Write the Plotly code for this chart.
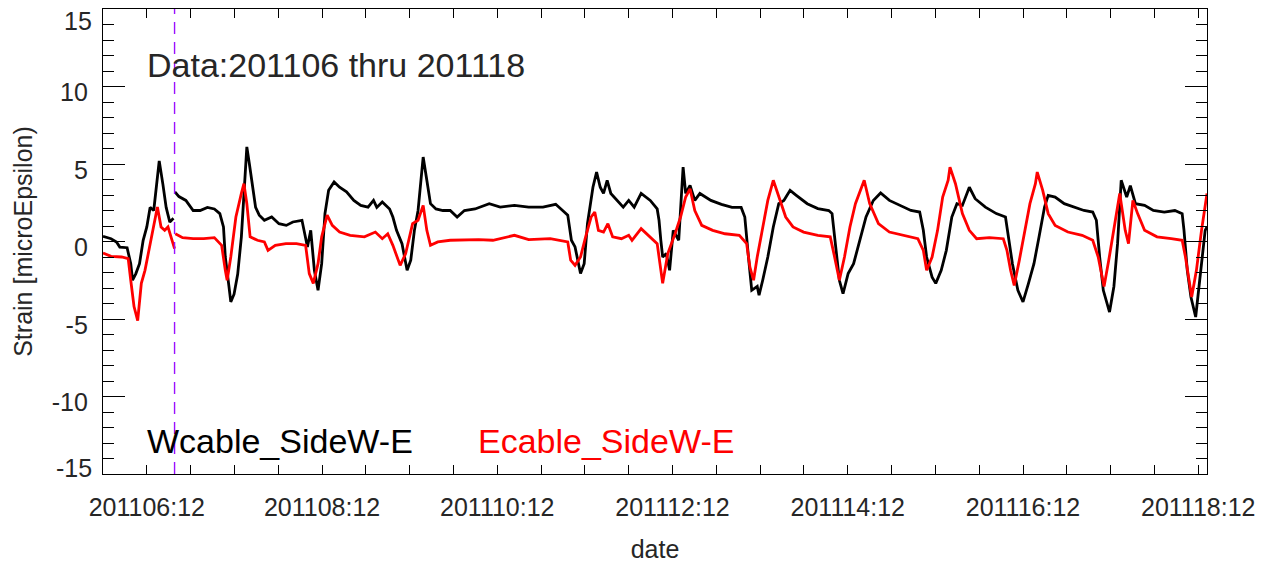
import pandas as pd
import plotly.graph_objects as go

# ---- data (hours since 2020-11-06 00:00) ----
start = pd.Timestamp("2020-11-06 00:00")

w_hours = [0, 2.2, 3.7, 4.6, 6.6, 7.6, 8.1, 9.0, 10.0, 11.0, 12.0, 12.9, 13.9, 14.9, 15.4, 16.4, 17.3, 18.3, 19.3,
           19.6,
           19.7, 20.8, 22.7, 24.7, 26.6, 28.6, 30.5, 32.0, 33.0, 33.5, 34.5, 35.0, 35.9, 36.9, 37.9, 38.9, 39.4, 40.1,
           40.8, 41.8, 42.8, 44.2, 46.2, 48.2, 50.2, 52.0, 54.5, 55.5, 56.0, 56.9, 57.9, 58.9, 59.9, 60.8, 61.8, 63.3,
           64.8, 66.7, 68.7, 70.6, 72.6, 74.1, 75.0, 76.5, 78.5, 79.4, 80.4, 81.9, 83.3, 84.3, 85.3, 86.3, 87.2, 87.7,
           88.7, 89.7, 91.2, 93.1, 95.1, 97.0, 99.0, 101.9, 105.8, 108.8, 112.7, 116.6, 120.5, 124.0, 125.9, 127.3,
           128.3, 129.3, 130.8, 131.8, 132.7, 134.2, 135.2, 136.2, 137.1, 138.1, 139.1, 140.5, 142.5, 144.0, 145.5,
           147.4, 149.9, 151.8, 152.3, 152.8, 153.3, 154.3, 155.2, 156.2, 157.7, 158.9, 159.6, 160.8, 162.1, 163.5,
           166.5, 169.4, 172.3, 174.8, 175.8, 176.8, 177.7, 179.2, 179.7, 180.7, 182.1, 183.6, 185.1, 186.5, 188.2,
           189.9, 192.9, 195.8, 198.8, 199.7, 200.7, 201.7, 202.7, 204.1, 205.6, 207.5, 209.0, 211.0, 213.0, 215.4,
           218.3, 221.3, 223.7, 224.7, 225.6, 227.1, 228.1, 229.6, 231.0, 232.5, 233.9, 235.4, 237.3, 238.9, 241.7,
           244.7, 247.2, 248.1, 249.1, 250.6, 252.0, 253.5, 255.0, 256.4, 257.9, 258.9, 260.8, 263.3, 266.2, 268.7,
           271.1, 272.1, 273.0, 274.0, 275.7, 276.9, 277.9, 278.9, 280.4, 281.4, 282.8, 285.3, 287.7, 290.7, 293.6,
           295.6, 296.1, 297.0, 298.0, 299.3, 300.4, 301.9, 302.4]
w_strain = [0.33, 0.18, -0.03, -0.36, -0.4, -1.43, -2.5, -2.07, -1.43, 0.08, 0.94, 2.2, 2.0, 3.95, 5.2, 3.7, 2.2, 1.25, 1.5,
            None,
            3.2, 2.9, 2.65, 2.0, 2.0, 2.2, 2.1, 1.8, 0.94, -1.0, -2.9, -3.9, -3.4, -2.1, 0.3, 3.95, 6.1, 5.0,
            3.95, 2.2, 1.7, 1.37, 1.58, 1.15, 1.04, 1.26, 1.37, 0.3, -0.35, 0.72, -1.86, -3.15, -1.43, 1.8, 3.3, 3.84,
            3.5, 3.2, 2.65, 2.33, 2.22, 2.65, 2.2, 2.55, 2.1, 1.58, 0.72, -0.14, -1.86, -1.2, 0.72, 2.0, 4.16, 5.45,
            3.95, 2.44, 2.1, 2.0, 2.0, 1.58, 2.0, 2.1, 2.44, 2.22, 2.33, 2.22, 2.22, 2.4, 2.0, 1.7,
            0.08, -0.35, -2.07, -1.43, 1.15, 3.5, 4.48, 3.5, 3.1, 3.95, 3.1, 2.76, 2.22, 2.65, 2.22,
            3.1, 2.65, 2.1, 1.37, 0.08, -1.0, -0.78, -1.86, 0.72, 0.08, 4.8, 3.1, 3.62, 2.65, 3.1,
            2.65, 2.4, 2.2, 2.2, 1.58, -1.0, -3.15, -2.9, -3.47, -2.5, -1.0, 0.94, 2.44, 2.65, 3.3,
            2.98, 2.44, 2.12, 2.0, 1.8, -0.35, -2.5, -3.37, -2.07, -1.43, 0.3, 1.58, 2.65, 3.13, 2.65,
            2.33, 2.0, 1.9, 0.72, -1.0, -2.3, -2.7, -1.86, -0.57, 1.58, 2.44, 2.33, 3.5, 2.76, 2.22,
            1.8, 1.58, 0.08, -1.43, -3.15, -3.9, -2.7, -1.43, 0.3, 2.22, 2.98, 2.87, 2.44, 2.22, 2.0,
            1.9, 1.37, -1.0, -3.15, -4.55, -2.9, -0.14, 3.95, 2.87, 3.6, 2.44, 2.33, 2.0, 1.9, 2.0,
            1.8, 0.72, -1.86, -3.58, -4.87, -2.5, 0.72, 0.94]

e_hours = [0, 2.2, 5.1, 6.9, 7.6, 8.5, 9.5, 10.5, 11.5, 12.9, 13.9, 14.9, 15.9, 16.9, 17.8, 18.8, 19.6,
           19.65,
           19.8, 21.8, 24.7, 27.6, 30.5, 32.5, 33.5, 34.0, 35.0, 36.4, 37.9, 38.6, 39.4, 40.3, 42.3, 44.2, 45.2,
           47.2, 50.1, 53.0, 55.5, 56.5, 57.6, 58.9, 59.9, 61.4, 62.8, 64.8, 67.7, 71.6, 74.6, 76.5, 78.0, 79.4, 81.4,
           82.9, 84.8, 86.3, 87.7, 88.7, 89.7, 91.7, 95.1, 99.0, 102.9, 106.8, 112.7, 116.6, 122.5, 127.3, 128.1,
           129.3, 130.8, 132.2, 133.7, 134.7, 135.7, 137.1, 138.3, 139.6, 142.0, 144.0, 144.9, 147.4, 149.8, 151.8,
           153.3, 154.7, 156.7, 158.2, 159.6, 160.8, 162.1, 164.0, 167.0, 170.4, 174.3, 176.3, 177.2, 178.2, 179.2,
           180.6, 182.1, 183.6, 185.1, 187.0, 189.0, 191.9, 195.8, 199.2, 200.2, 201.7, 203.1, 204.6, 206.1, 207.5,
           208.5, 210.0, 212.4, 215.4, 219.3, 223.2, 224.7, 225.6, 227.1, 228.6, 230.0, 231.5, 232.0, 233.5, 235.4,
           237.3, 239.3, 242.8, 246.6, 247.6, 248.6, 249.6, 251.0, 252.5, 253.9, 255.4, 255.9, 257.4, 258.9, 260.8,
           264.3, 268.2, 271.1, 272.6, 273.6, 274.2, 275.5, 277.0, 278.5, 280.0, 280.9, 282.1, 283.4, 285.3, 288.7,
           292.6, 295.6, 296.5, 297.5, 298.2, 299.5, 300.9, 302.4]
e_strain = [-0.74, -0.96, -1.0, -1.1, -2.5, -4.2, -5.1, -2.7, -1.86, -0.14, 1.15, 2.22, 0.94, 0.72, 0.94, 0.08, -0.46,
            None,
            0.5, 0.25, 0.18, 0.18, 0.25, -0.25, -1.86, -2.5, -1.0, 1.58, 3.1, 3.73, 2.44, 0.3, 0.08, -0.03, -0.57,
            -0.25, -0.14, -0.14, -0.25, -2.07, -2.7, -1.43, 0.3, 1.7, 1.04, 0.61, 0.4, 0.3, 0.61, 0.18, 0.5, -0.25,
            -1.54, -0.78, 1.15, 1.37, 2.33, 0.72, -0.25, -0.03, 0.08, 0.12, 0.12, 0.08, 0.4, 0.12, 0.18, -0.03, -1.2,
            -1.54, -1.0, 0.3, 1.58, 1.9, 0.72, 0.61, 1.15, 0.3, 0.18, 0.4, 0.08, 0.83, 0.3, -0.14,
            -2.7, -0.78, 0.5, 1.58, 2.87, 3.4, 2.0, 1.04, 0.72, 0.5, 0.4, -0.14, -1.65, -2.5, -1.0,
            0.72, 2.65, 3.95, 2.87, 1.58, 0.94, 0.61, 0.4, 0.3, -0.78, -2.5, -1.0, 0.94, 2.44, 3.3,
            3.95, 2.44, 1.15, 0.61, 0.4, 0.18, -0.57, -1.86, -1.0, 0.72, 2.87, 3.95, 4.8, 3.73, 1.8,
            0.72, 0.18, 0.25, 0.18, -0.57, -1.86, -2.83, -1.2, 0.72, 2.44, 3.73, 4.48, 3.3, 1.8, 1.04,
            0.61, 0.4, 0.08, -1.0, -2.07, -2.9, -1.2, 0.94, 3.1, 0.72, -0.14, 2.65, 1.8, 0.72, 0.3,
            0.18, 0.08, -1.0, -2.5, -3.58, -1.86, 0.72, 3.1]

assert len(w_hours) == len(w_strain), (len(w_hours), len(w_strain))
assert len(e_hours) == len(e_strain), (len(e_hours), len(e_strain))

marker_hour = 19.6
x_start_hour = 0
x_end_hour = 302.4
y_tick_vals = [-10, -5, 0, 5, 10]
y_tick_text = ["-10", "-5", "0", "5", "10"]
y_end_labels = [15, -15]
y_end_text = ["15", "-15"]
title_text = "Data:201106 thru 201118"
w_name = "Wcable_SideW-E"
e_name = "Ecable_SideW-E"


def to_time(hours):
    return [start + pd.Timedelta(hours=h) for h in hours]


FONT = "Liberation Sans, Arial, Helvetica, sans-serif"
TXT = "#262626"

fig = go.Figure()
fig.add_trace(go.Scatter(x=to_time(w_hours), y=w_strain, mode="lines", name=w_name,
                         line=dict(color="black", width=2.8), connectgaps=False))
fig.add_trace(go.Scatter(x=to_time(e_hours), y=e_strain, mode="lines", name=e_name,
                         line=dict(color="#ff0000", width=2.8), connectgaps=False))

mt = start + pd.Timedelta(hours=marker_hour)
fig.add_shape(type="line", xref="x", yref="paper", x0=mt, x1=mt, y0=0, y1=1,
              line=dict(color="#9a10ff", width=1.4, dash="12px,8px"))

# the page body has an 8px default margin, so the figure is 8px smaller
fig.update_layout(
    width=1271, height=555,
    margin=dict(l=95, r=72, t=1, b=89, autoexpand=False),
    paper_bgcolor="white", plot_bgcolor="white",
    showlegend=False,
    font=dict(family=FONT, size=25, color=TXT),
)

fig.update_xaxes(
    automargin=False,
    range=[start + pd.Timedelta(hours=x_start_hour), start + pd.Timedelta(hours=x_end_hour)],
    tick0=start + pd.Timedelta(hours=12), dtick=2 * 86400000,
    tickformat="%y%m%d:%H",
    ticks="inside", ticklen=9, tickwidth=1, tickcolor="black",
    minor=dict(dtick=12 * 3600000, ticks="inside", ticklen=9, tickwidth=1, tickcolor="black"),
    showline=True, linecolor="black", linewidth=1.3, mirror="allticks",
    showgrid=False, zeroline=False,
    ticklabelstandoff=11,
    tickfont=dict(family=FONT, size=25, color=TXT),
    title=dict(text="date", font=dict(family=FONT, size=25, color=TXT), standoff=20),
)
fig.update_yaxes(
    automargin=False,
    range=[-15, 15],
    tickvals=y_tick_vals, ticktext=y_tick_text,
    ticks="inside", ticklen=22, tickwidth=1, tickcolor="black",
    minor=dict(dtick=1, ticks="inside", ticklen=11, tickwidth=1, tickcolor="black", showgrid=False),
    showline=True, linecolor="black", linewidth=1.3, mirror="allticks",
    showgrid=False, zeroline=False,
    ticklabelstandoff=9, ticklabelshift=6,
    tickfont=dict(family=FONT, size=25, color=TXT),
    title=dict(text="Strain [microEpsilon)", font=dict(family=FONT, size=25, color=TXT), standoff=11),
)

# end labels of the y axis (drawn inward, as in the original)
for v, txt, shift in zip(y_end_labels, y_end_text, [-12, 6]):
    fig.add_annotation(xref="paper", yref="y", x=0, y=v, xanchor="right", yanchor="middle",
                       xshift=-9, yshift=shift, showarrow=False, text=txt,
                       font=dict(family=FONT, size=25, color=TXT))

fig.add_annotation(xref="paper", yref="paper", x=0.038, y=0.880, xanchor="left", yanchor="middle",
                   showarrow=False, text=title_text, font=dict(family=FONT, size=34, color=TXT))
fig.add_annotation(xref="paper", yref="paper", x=0.038, y=0.072, xanchor="left", yanchor="middle",
                   showarrow=False, text=w_name, font=dict(family=FONT, size=34, color="black"))
fig.add_annotation(xref="paper", yref="paper", x=0.338, y=0.072, xanchor="left", yanchor="middle",
                   showarrow=False, text=e_name, font=dict(family=FONT, size=34, color="#ff0000"))

fig.write_html("out.html")
